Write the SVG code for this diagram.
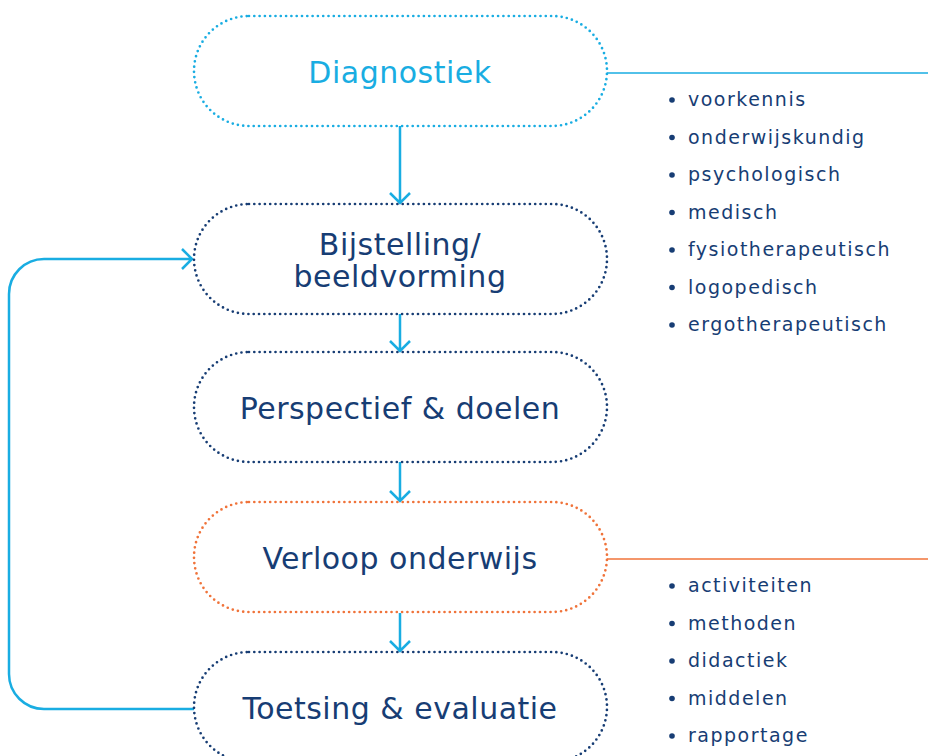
<svg xmlns="http://www.w3.org/2000/svg" width="928" height="756" viewBox="0 0 928 756">
<defs>
<style>
.box{fill:none;stroke-width:2.7;stroke-linecap:round;stroke-dasharray:0 5.3}
.navy{stroke:#173d74}
.cyanb{stroke:#19ade2}
.orangeb{stroke:#f0733a}
.lbl{font-family:"DejaVu Sans",sans-serif;font-size:30px;fill:#173d74;text-anchor:middle;letter-spacing:0.5px}
.conn{fill:none;stroke:#19ade2;stroke-width:2.5}
.list{font-family:"DejaVu Sans",sans-serif;font-size:19px;fill:#173d74;letter-spacing:1.5px}
.dot{fill:#173d74}
</style>
</defs>
<g id="connectors">
<path class="conn" d="M400 126V203M390 193L400 203L410 193"/>
<path class="conn" d="M400 314V351M390 341L400 351L410 341"/>
<path class="conn" d="M400 462V501M390 491L400 501L410 491"/>
<path class="conn" d="M400 613V651M390 641L400 651L410 641"/>
<path class="conn" d="M194 709H44A35 35 0 0 1 9 674V294A35 35 0 0 1 44 259H192M182 249L192 259L182 269"/>
<path fill="none" stroke="#19ade2" stroke-width="1.6" d="M607 73H928"/>
<path fill="none" stroke="#f0733a" stroke-width="1.6" d="M607 559H928"/>
</g>
<g id="diagnostiek">
<rect class="box cyanb" x="194" y="16" width="413" height="110" rx="55"/>
<text class="lbl" x="400" y="83" style="fill:#19ade2">Diagnostiek</text>
</g>
<g id="bijstelling">
<rect class="box navy" x="194" y="204" width="413" height="110" rx="55"/>
<text class="lbl" x="400" y="255">Bijstelling/</text>
<text class="lbl" x="400" y="287">beeldvorming</text>
</g>
<g id="perspectief">
<rect class="box navy" x="194" y="352" width="413" height="110" rx="55"/>
<text class="lbl" x="400" y="419">Perspectief &amp; doelen</text>
</g>
<g id="verloop">
<rect class="box orangeb" x="194" y="502" width="413" height="110" rx="55"/>
<text class="lbl" x="400" y="569">Verloop onderwijs</text>
</g>
<g id="toetsing">
<rect class="box navy" x="194" y="652" width="413" height="110" rx="55"/>
<text class="lbl" x="400" y="719">Toetsing &amp; evaluatie</text>
</g>
<g id="diagnostiek-list">
<circle class="dot" cx="672" cy="100" r="2.8"/><text class="list" x="688" y="106">voorkennis</text>
<circle class="dot" cx="672" cy="137.5" r="2.8"/><text class="list" x="688" y="143.5">onderwijskundig</text>
<circle class="dot" cx="672" cy="175" r="2.8"/><text class="list" x="688" y="181">psychologisch</text>
<circle class="dot" cx="672" cy="212.5" r="2.8"/><text class="list" x="688" y="218.5">medisch</text>
<circle class="dot" cx="672" cy="250" r="2.8"/><text class="list" x="688" y="256">fysiotherapeutisch</text>
<circle class="dot" cx="672" cy="287.5" r="2.8"/><text class="list" x="688" y="293.5">logopedisch</text>
<circle class="dot" cx="672" cy="325" r="2.8"/><text class="list" x="688" y="331">ergotherapeutisch</text>
</g>
<g id="verloop-list">
<circle class="dot" cx="672" cy="586" r="2.8"/><text class="list" x="688" y="592">activiteiten</text>
<circle class="dot" cx="672" cy="623.5" r="2.8"/><text class="list" x="688" y="629.5">methoden</text>
<circle class="dot" cx="672" cy="661" r="2.8"/><text class="list" x="688" y="667">didactiek</text>
<circle class="dot" cx="672" cy="698.5" r="2.8"/><text class="list" x="688" y="704.5">middelen</text>
<circle class="dot" cx="672" cy="736" r="2.8"/><text class="list" x="688" y="742">rapportage</text>
</g>
</svg>
